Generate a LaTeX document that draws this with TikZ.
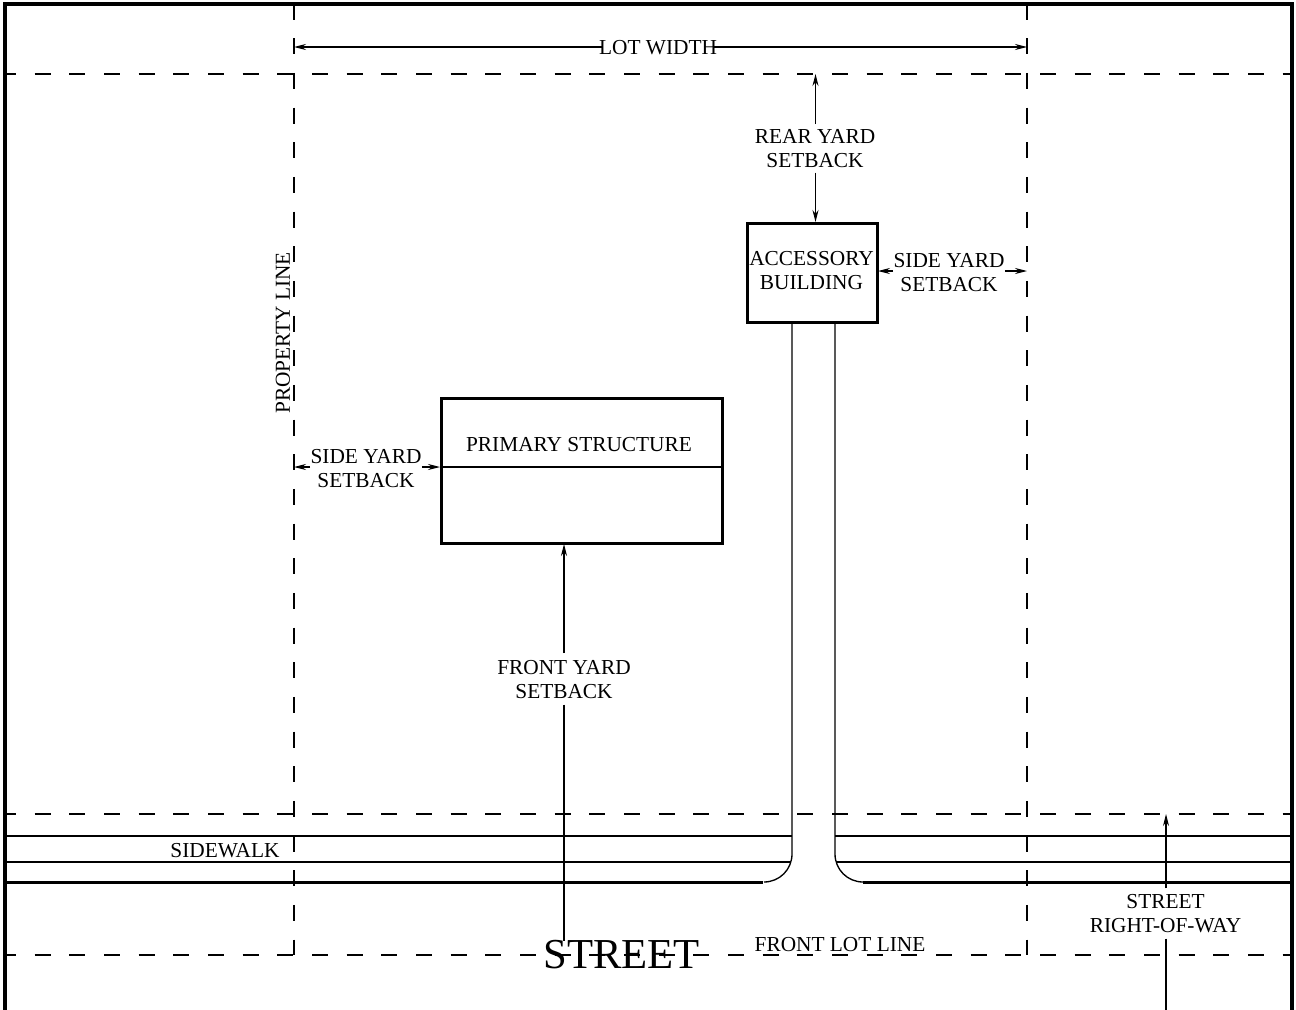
\documentclass[tikz,border=0pt]{standalone}
\usepackage{fontspec}
\setmainfont{Liberation Serif}
\usetikzlibrary{arrows.meta}

\tikzset{every picture/.style={line width=0.75pt}}
\tikzset{
	thinline/.style={line width=1pt,line cap=butt},
	heavyline/.style={line width=2.25pt},
	boxline/.style={line width=2.25pt},
	setbackline/.style={line width=1pt,dash pattern=on 12pt off 14pt,dash phase=3.75pt},
	dimline/.style={line width=0.85pt,-{Stealth[length=9pt,width=4.5pt]}},
	label/.style={inner sep=0pt,align=center,font=\fontsize{16}{18}\selectfont},
}

\begin{document}
\begin{tikzpicture}[x=0.75pt,y=0.75pt,yscale=-1,xscale=1]
	\useasboundingbox (0,0) rectangle (1296,1010);

	%Setback lines
	\draw [setbackline] (5,74) -- (1292,74) ;
	\draw [setbackline] (5,814) -- (1292,814) ;
	\draw [setbackline] (5,955) -- (1292,955) ;
	\draw [setbackline,dash phase=0pt] (294,3.6) -- (294,955) ;
	\draw [setbackline,dash phase=0pt] (1027,3.6) -- (1027,955) ;

	%Sheet border
	\draw [line width=3pt] (5,1010) -- (5,3.8) -- (1292,3.8) -- (1292,1010) ;

	%Sidewalk and driveway
	\draw [thinline] (5,836) -- (792,836) ;
	\draw [thinline] (5,862) -- (791,862) ;
	\draw [thinline] (835,836) -- (1292,836) ;
	\draw [thinline] (836,862) -- (1292,862) ;
	\draw [heavyline] (5,882.5) -- (763,882.5) ;
	\draw [heavyline] (863,882.5) -- (1292,882.5) ;
	\draw [thinline] (792,322) -- (792,854) .. controls (792,869.5) and (779.5,882) .. (764,882) ;
	\draw [thinline] (835,322) -- (835,854) .. controls (835,869.5) and (847.5,882) .. (863,882) ;

	%Buildings
	\draw [boxline,fill=white] (747.5,223.5) rectangle (877.5,322.5) ;
	\draw [boxline,fill=white] (441.5,398.5) rectangle (722.5,543.5) ;
	\draw [thinline] (441,467) -- (722,467) ;

	% Text Node
	\node [label] (lotwidth) at (658,47.5) {LOT WIDTH};
	\node [label] (rearyard) at (815,149) {REAR YARD\\SETBACK};
	\node [label] (accessory) at (811.5,271) {ACCESSORY\\BUILDING};
	\node [label] (sideyardright) at (949,272.5) {SIDE YARD\\SETBACK};
	\node [label] (primary) at (579,444.5) {PRIMARY STRUCTURE};
	\node [label] (sideyardleft) at (366,468.5) {SIDE YARD\\SETBACK};
	\node [label] (frontyard) at (564,679.5) {FRONT YARD\\SETBACK};
	\node [label,rotate=90] (propertyline) at (283,333) {PROPERTY LINE};
	\node [label] (sidewalk) at (225,850.5) {SIDEWALK};
	\node [label] (frontlot) at (840,944.5) {FRONT LOT LINE};
	\node [label] (rightofway) at (1165.5,913.5) {STREET\\RIGHT-OF-WAY};
	\node [inner sep=0pt,font=\fontsize{32}{36}\selectfont] (street) at (621.5,955) {STREET};

	%Arrow ends
	\coordinate (lotleft) at (294,47);
	\coordinate (lotright) at (1027,47);
	\coordinate (rearend) at (815.5,74);
	\coordinate (accessorytop) at (815.5,222);
	\coordinate (accessoryright) at (878,271);
	\coordinate (sideright) at (1027,271);
	\coordinate (sideleft) at (294,467);
	\coordinate (primaryleft) at (440,467);
	\coordinate (primarybottom) at (564,544);
	\coordinate (streetend) at (564,941);
	\coordinate (wayup) at (1166,814);
	\coordinate (waydown) at (1166,1010);

	%Straight Lines
	\draw [dimline] ([xshift=3]lotwidth.west |- lotleft) -- (lotleft) ;
	\draw [dimline] ([xshift=-3]lotwidth.east |- lotright) -- (lotright) ;
	\draw [dimline] ([yshift=-4pt]rearend |- rearyard.north) -- (rearend) ;
	\draw [dimline] ([yshift=3pt]rearend |- rearyard.south) -- (accessorytop) ;
	\draw [dimline] (sideyardright.west |- sideright) -- (accessoryright) ;
	\draw [dimline] (sideyardright.east |- sideright) -- (sideright) ;
	\draw [dimline] (sideyardleft.west |- sideleft) -- (sideleft) ;
	\draw [dimline] (sideyardleft.east |- sideleft) -- (primaryleft) ;
	\draw [dimline] ([yshift=-5pt]frontyard.north) -- (primarybottom) ;
	\draw [line width=0.85pt] ([yshift=4pt]frontyard.south) -- (streetend) ;
	\draw [dimline] ([yshift=-4pt]wayup |- rightofway.north) -- (wayup) ;
	\draw [line width=0.85pt] ([yshift=4pt]waydown |- rightofway.south) -- (waydown) ;
\end{tikzpicture}
\end{document}
